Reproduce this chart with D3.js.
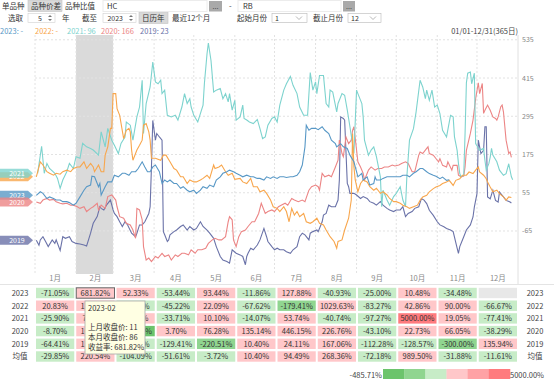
<!DOCTYPE html>
<html>
<head>
<meta charset="utf-8">
<script src="https://cdn.jsdelivr.net/npm/d3@7"></script>
<style>
body { margin: 0; background: #fff; }
svg { display: block; font-family: "Noto Sans CJK SC", "Noto Sans", sans-serif; }
</style>
</head>
<body>
<svg id="chart" width="554" height="391"></svg>
<script>
// years shown, newest first
const years = ["2023", "2022", "2021", "2020", "2019"];
const yearColors = ["#5898c6", "#f8a64c", "#7dd3ce", "#ec8585", "#6a72a8"];
const legendValues = ["-", "-", "96", "166", "23"];
const months = ["1月", "2月", "3月", "4月", "5月", "6月", "7月", "8月", "9月", "10月", "11月", "12月"];
const monthStarts = [0, 31, 59, 90, 120, 151, 181, 212, 243, 273, 304, 334];
const yTicks = [-65, 55, 175, 295, 415, 535];

// spread series: [day of year, value]
const s2023 = [[1,47],[4,58],[6,53],[9,37],[11,42],[14,37],[16,32],[19,32],[21,27],[24,27],[26,24],[29,16],[31,22],[34,42],[37,63],[39,74],[42,79],[43,107],[45,105],[48,74],[49,84],[50,48],[53,74],[55,89],[58,89],[60,110],[63,105],[66,116],[68,116],[71,110],[73,121],[76,121],[78,131],[81,152],[83,136],[85,121],[87,121],[89,136],[91,142],[94,121],[96,84],[98,95],[100,89],[102,95],[105,84],[107,84],[110,69],[112,74],[115,63],[117,58],[120,63],[122,53],[125,63],[127,74],[130,69],[132,79],[135,74],[137,95],[140,105],[142,116],[145,121],[147,126],[150,121],[152,116],[155,110],[157,105],[160,110],[163,105],[165,105],[168,100],[170,100],[173,95],[175,105],[178,100],[180,105],[183,100],[185,105],[188,105],[190,103],[193,105],[195,105],[198,110],[200,121],[202,142],[204,199],[205,267],[207,251],[209,257],[212,257],[214,253],[217,262],[219,251],[222,241],[224,220],[227,209],[228,199],[231,209],[233,199],[236,194],[238,173],[241,152],[242,136],[243,121],[244,105],[247,116],[248,95],[251,105],[253,79],[256,84],[257,105],[258,95],[261,95],[263,100],[266,105],[268,105],[271,105],[273,105],[276,105],[278,110],[281,110],[283,105],[286,116],[288,121],[291,131],[293,131],[296,121],[298,115],[301,110],[303,107],[306,99],[308,104],[311,94],[313,96]];
const s2022 = [[1,105],[4,152],[6,142],[9,121],[11,116],[14,110],[16,116],[19,113],[21,121],[24,126],[27,121],[29,131],[32,136],[34,136],[37,152],[39,131],[42,147],[44,136],[45,121],[48,142],[50,121],[52,121],[53,173],[55,199],[57,257],[58,257],[59,366],[61,366],[62,319],[64,298],[67,225],[69,251],[71,257],[72,246],[73,189],[74,157],[77,189],[79,204],[81,220],[82,267],[84,272],[86,246],[87,220],[88,163],[91,163],[95,157],[97,173],[99,173],[102,152],[105,131],[107,126],[110,105],[112,105],[115,84],[117,95],[120,89],[122,89],[125,95],[127,100],[130,110],[132,100],[135,142],[136,131],[139,136],[141,142],[144,121],[146,110],[149,116],[151,97],[155,100],[157,89],[160,84],[163,100],[165,74],[168,74],[170,58],[173,63],[175,53],[178,32],[180,11],[183,6],[185,-4],[188,11],[190,-4],[192,-36],[194,6],[196,-15],[198,-4],[200,-20],[203,-10],[205,-36],[208,-41],[210,-36],[213,-25],[215,-41],[218,-46],[220,-62],[223,-83],[226,-98],[228,-119],[229,-98],[232,-93],[234,-62],[237,-25],[239,32],[240,241],[241,136],[242,95],[244,58],[246,84],[248,95],[251,89],[253,74],[256,63],[258,69],[261,53],[263,58],[266,48],[268,37],[271,27],[273,27],[276,22],[278,16],[281,11],[283,6],[286,11],[289,16],[291,31],[293,42],[296,47],[298,58],[301,68],[303,73],[306,78],[308,84],[311,89],[313,94],[316,78],[318,94],[321,99],[323,110],[326,110],[328,120],[331,115],[333,126],[335,136],[336,120],[339,110],[341,99],[342,89],[344,73],[346,58],[349,63],[351,52],[354,42],[355,37],[356,31],[358,42],[360,40]];
const s2021 = [[2,116],[5,201],[7,116],[9,147],[11,131],[15,116],[17,100],[19,69],[21,95],[24,121],[26,147],[29,131],[31,168],[34,163],[36,210],[39,199],[42,194],[44,189],[48,173],[50,246],[53,199],[55,257],[58,220],[60,204],[63,178],[65,210],[68,230],[69,277],[72,267],[74,220],[77,293],[79,324],[81,408],[82,241],[84,335],[87,387],[89,465],[91,403],[93,397],[95,408],[96,366],[98,377],[100,298],[103,293],[106,298],[108,283],[111,324],[113,366],[115,335],[117,350],[118,324],[120,298],[123,277],[127,330],[128,397],[130,491],[131,525],[133,470],[135,371],[137,377],[140,382],[142,350],[144,366],[146,340],[147,366],[149,314],[151,345],[152,283],[155,293],[157,330],[158,288],[160,283],[162,277],[165,272],[168,285],[170,256],[172,225],[174,230],[176,267],[179,288],[181,293],[183,277],[185,330],[188,377],[190,397],[193,420],[195,392],[198,366],[200,324],[203,298],[206,298],[208,432],[210,377],[212,403],[213,366],[215,423],[218,423],[220,335],[222,324],[223,377],[225,371],[228,309],[229,335],[232,366],[234,361],[236,314],[238,262],[241,178],[243,377],[244,366],[247,335],[248,293],[249,220],[252,173],[254,189],[256,199],[258,168],[261,105],[262,11],[263,63],[266,32],[268,16],[271,43],[273,53],[276,74],[278,32],[280,11],[281,105],[283,220],[286,256],[288,309],[291,408],[293,387],[295,350],[296,377],[298,345],[300,377],[302,324],[304,330],[306,303],[308,251],[311,230],[314,298],[316,293],[317,230],[319,188],[320,147],[321,115],[322,105],[324,110],[325,241],[326,400],[327,430],[329,434],[330,397],[332,430],[333,209],[336,188],[339,194],[340,157],[341,126],[343,147],[344,167],[345,194],[346,173],[349,152],[351,126],[354,110],[356,115],[358,146],[360,105],[361,96]];
const s2020 = [[1,26],[4,22],[6,32],[9,37],[11,32],[14,34],[16,27],[19,22],[21,20],[24,22],[27,16],[29,16],[32,11],[34,6],[37,11],[39,-4],[42,6],[44,11],[47,22],[48,1],[50,16],[53,6],[55,43],[58,48],[61,32],[62,11],[64,-20],[67,-25],[69,-41],[72,-46],[74,-62],[76,-88],[77,6],[79,1],[81,-30],[82,-114],[84,-156],[86,-150],[88,-161],[91,-145],[93,-150],[96,-135],[98,-145],[101,-140],[103,-156],[106,-140],[108,-145],[111,-135],[113,-135],[116,-140],[118,-124],[121,-135],[123,-124],[126,-124],[129,-119],[131,-104],[134,-93],[136,-88],[139,-93],[141,-93],[144,-83],[146,-36],[147,-20],[149,-30],[150,-93],[152,-114],[154,-83],[156,-67],[159,-62],[161,-51],[164,-36],[166,-36],[169,-10],[171,22],[174,-10],[176,-4],[179,1],[181,-4],[184,11],[186,16],[189,22],[191,16],[194,37],[196,32],[199,27],[202,32],[204,27],[207,63],[209,74],[212,79],[214,74],[215,63],[217,116],[219,105],[222,110],[224,105],[227,136],[229,157],[230,220],[232,178],[233,168],[235,230],[237,209],[239,220],[240,251],[241,262],[243,189],[244,152],[246,136],[248,116],[249,95],[252,126],[254,136],[257,126],[259,131],[262,131],[264,136],[267,136],[270,142],[272,139],[275,142],[277,147],[280,152],[282,147],[285,121],[287,121],[290,173],[291,183],[293,178],[296,194],[297,199],[298,178],[301,173],[304,157],[305,152],[306,162],[308,141],[311,136],[312,152],[315,126],[316,141],[319,141],[320,110],[322,105],[324,107],[325,136],[326,188],[329,241],[331,283],[333,350],[335,400],[336,366],[338,398],[339,304],[340,314],[342,330],[344,314],[346,293],[348,288],[349,283],[350,293],[352,325],[353,330],[354,309],[356,220],[358,178],[359,183],[360,166]];
const s2019 = [[1,-94],[3,-110],[4,-93],[6,-83],[8,-98],[10,-114],[13,-93],[15,-104],[16,-93],[19,-126],[21,-83],[23,-88],[26,-83],[28,-98],[31,-104],[34,-106],[37,-109],[39,-112],[42,-72],[44,-41],[47,-20],[49,11],[50,6],[52,1],[54,16],[57,32],[59,1],[60,-10],[62,-20],[64,-36],[66,-51],[68,-36],[70,-46],[73,-72],[76,-83],[77,-72],[79,-46],[81,-46],[83,-36],[86,-10],[87,11],[88,135],[89,282],[91,220],[92,241],[94,230],[96,220],[97,-67],[98,-77],[100,-98],[101,-93],[102,-77],[105,-67],[107,-62],[110,-51],[112,-46],[115,-62],[117,-51],[120,-62],[122,-57],[125,-36],[127,-51],[130,-62],[132,-72],[135,-88],[137,-114],[140,-145],[142,-156],[145,-161],[147,-166],[149,-124],[152,-135],[155,-140],[157,-145],[159,-171],[160,-145],[161,-135],[163,-119],[165,-124],[168,-109],[170,-93],[173,-57],[175,-83],[176,-98],[179,-114],[181,-124],[183,-119],[185,-124],[188,-124],[190,-130],[193,-135],[195,-124],[198,-114],[200,-83],[202,-72],[204,-77],[207,-93],[208,-72],[210,-67],[213,-62],[214,-67],[217,-36],[218,-15],[220,-10],[222,16],[224,11],[227,11],[229,32],[230,95],[231,293],[233,288],[234,283],[236,84],[237,74],[238,53],[241,53],[243,48],[246,37],[248,43],[251,37],[253,27],[256,22],[258,16],[261,27],[263,16],[266,6],[268,1],[271,-4],[273,1],[276,1],[278,11],[280,-20],[282,-10],[285,-4],[287,6],[290,11],[292,37],[294,32],[296,21],[298,0],[301,-16],[304,-36],[306,-46],[309,-52],[311,-57],[314,-62],[316,-67],[319,-119],[320,-135],[321,-114],[324,-83],[326,-62],[329,-46],[331,-21],[332,10],[334,52],[335,220],[336,199],[337,178],[339,188],[340,262],[341,262],[342,42],[344,36],[346,63],[348,31],[350,26],[351,57],[354,42],[356,31],[359,26],[360,23]];
const allSeries = [s2023, s2022, s2021, s2020, s2019];

// monthly returns (%), null = no data
const ret2023 = [-71.05, 681.82, 52.33, -53.44, 93.44, -11.86, 127.88, -40.93, -25.00, 10.48, -34.48, null];
const ret2022 = [20.83, 125.00, -45.45, -45.22, 22.09, -67.62, -179.41, 1029.63, -83.27, 42.86, 90.00, -66.67];
const ret2021 = [-25.90, 72.73, 12.50, -33.71, 10.10, -14.07, 53.74, -40.74, -97.27, 5000.00, 19.05, -77.41];
const ret2020 = [-8.70, 100.00, -485.71, 3.70, 76.28, 135.14, 446.15, 226.76, -43.10, 22.73, 66.05, -38.29];
const ret2019 = [-64.41, 123.15, -54.12, -129.41, -220.51, 10.40, 24.11, 167.06, -112.28, -128.57, -300.00, 135.94];
const retAvg = [-29.85, 220.54, -104.09, -51.61, -3.72, 10.40, 94.49, 268.36, -72.18, 989.50, -31.88, -11.61];
const tableRows = [ret2023, ret2022, ret2021, ret2020, ret2019];

const svg = d3.select("#chart");

// ---------- top controls ----------
function label(x, y, t, opts) {
	opts = opts || {};
	return svg.append("text")
	.attr("x", x).attr("y", y)
	.attr("font-size", opts.size || 7.5)
	.attr("fill", opts.fill || "#333")
	.attr("text-anchor", opts.anchor || "start")
	.text(t);
}

// tabs
svg.append("rect").attr("x", 28).attr("y", 0.5).attr("width", 34).attr("height", 11)
	.attr("fill", "#d9d9d9").attr("stroke", "#c4c4c4").attr("stroke-width", 0.6);
label(2, 9, "单品种");
label(31, 9, "品种价差");
label(65, 9, "品种比值");

// variety inputs
svg.append("rect").attr("x", 103).attr("y", 0.5).attr("width", 104).attr("height", 11)
	.attr("fill", "#fff").attr("stroke", "#ececec");
label(107, 9, "HC");
svg.append("rect").attr("x", 209).attr("y", 1).attr("width", 13).attr("height", 10.5)
	.attr("fill", "#a9a9a9");
label(215.5, 8.5, "...", {anchor: "middle", fill: "#444", size: 7});
label(229, 9, "-");
svg.append("rect").attr("x", 238).attr("y", 0.5).attr("width", 103).attr("height", 11)
	.attr("fill", "#fff").attr("stroke", "#ececec");
label(243, 9, "RB");
svg.append("rect").attr("x", 343).attr("y", 1).attr("width", 12).attr("height", 10.5)
	.attr("fill", "#a9a9a9");
label(349, 8.5, "...", {anchor: "middle", fill: "#444", size: 7});

// second row
function spinBox(x0, w, t) {
	svg.append("rect").attr("x", x0).attr("y", 13.5).attr("width", w).attr("height", 9)
		.attr("fill", "#fff").attr("stroke", "#d0d0d0").attr("stroke-width", 0.6);
	label(x0 + w - 13, 20.5, t, {anchor: "end", size: 7});
	const ax = x0 + w - 5;
	svg.append("path").attr("d", `M${ax - 2},17 L${ax},15 L${ax + 2},17 Z`).attr("fill", "#777");
	svg.append("path").attr("d", `M${ax - 2},19 L${ax},21 L${ax + 2},19 Z`).attr("fill", "#777");
}
function comboBox(x0, w, t) {
	svg.append("rect").attr("x", x0).attr("y", 13.5).attr("width", w).attr("height", 9)
		.attr("fill", "#fff").attr("stroke", "#b8b8b8").attr("stroke-width", 0.6);
	label(x0 + 3, 20.5, t, {size: 7});
	const ax = x0 + w - 8;
	svg.append("path").attr("d", `M${ax - 3},16.5 L${ax},19.5 L${ax + 3},16.5`)
		.attr("fill", "none").attr("stroke", "#999").attr("stroke-width", 0.7);
}
label(8, 20.5, "选取");
spinBox(28, 27, "5");
label(62, 20.5, "年");
label(82, 20.5, "截至");
spinBox(103, 33, "2023");
svg.append("rect").attr("x", 139).attr("y", 12.5).attr("width", 29).attr("height", 11)
	.attr("fill", "#d9d9d9").attr("stroke", "#c4c4c4").attr("stroke-width", 0.6);
label(142, 20.5, "日历年");
label(172, 20.5, "最近12个月");
label(237, 20.5, "起始月份");
comboBox(272, 35, "1");
label(313, 20.5, "截止月份");
comboBox(348, 33, "12");

// legend row
let lx = 0;
const legendX = [0, 35, 67, 101, 140];
years.forEach(function(yr, i) {
	label(legendX[i], 33.5, yr + ": " + legendValues[i], {fill: yearColors[i], size: 7.5});
});
label(518, 33.5, "01/01-12/31(365日)", {anchor: "end", fill: "#444", size: 7.5});

// ---------- plot ----------
const x = d3.scaleLinear().domain([0, 365]).range([35, 518]);
const y = d3.scaleLinear().domain([-200, 550]).range([274, 35]);

// highlighted month (Feb)
svg.append("rect")
	.attr("x", x(monthStarts[1])).attr("y", 35)
	.attr("width", x(monthStarts[2]) - x(monthStarts[1])).attr("height", 239)
	.attr("fill", "#dadada");

// grid
svg.append("g").selectAll("line").data(yTicks).enter().append("line")
	.attr("x1", 35).attr("x2", 518)
	.attr("y1", d => y(d)).attr("y2", d => y(d))
	.attr("stroke", "#e2e2e2").attr("stroke-dasharray", "2,2");
svg.append("g").selectAll("line").data(monthStarts).enter().append("line")
	.attr("x1", d => x(d)).attr("x2", d => x(d))
	.attr("y1", 35).attr("y2", 274)
	.attr("stroke", "#e2e2e2").attr("stroke-dasharray", "2,2");
svg.append("line").attr("x1", 518).attr("x2", 518).attr("y1", 35).attr("y2", 285)
	.attr("stroke", "#e0e0e0");

// right axis labels
svg.append("g").selectAll("text").data(yTicks).enter().append("text")
	.attr("x", 522).attr("y", d => y(d) + 2.5)
	.attr("font-size", 7).attr("fill", "#888")
	.text(d => d);

svg.append("clipPath").attr("id", "plotclip").append("rect")
	.attr("x", 35).attr("y", 35).attr("width", 483).attr("height", 239);

const line = d3.line().x(d => x(d[0])).y(d => y(d[1]));
const lineG = svg.append("g").attr("clip-path", "url(#plotclip)");
for (let i = allSeries.length - 1; i >= 0; i--) {
	lineG.append("path")
		.attr("d", line(allSeries[i]))
		.attr("fill", "none")
		.attr("stroke", yearColors[i])
		.attr("stroke-width", 1.1);
}

// start tags on the left
const tagOrder = [0, 1, 2, 3, 4];
tagOrder.forEach(function(i) {
	const ty = y(allSeries[i][0][1]);
	svg.append("path")
		.attr("d", `M0,${ty - 4.5} L28,${ty - 4.5} L33,${ty} L28,${ty + 4.5} L0,${ty + 4.5} Z`)
		.attr("fill", yearColors[i]).attr("fill-opacity", 0.8);
	svg.append("text").attr("x", 17).attr("y", ty + 2.6)
		.attr("text-anchor", "middle").attr("font-size", 7).attr("fill", "#fff")
		.text(years[i]);
});

// ---------- table ----------
const colW = 483 / 12;
const rowY = [293, 305.7, 318.4, 331.1, 343.8, 356.5];

// header
svg.append("g").selectAll("text").data(months).enter().append("text")
	.attr("x", (d, i) => 35 + colW * (i + 0.5)).attr("y", 281)
	.attr("text-anchor", "middle").attr("font-size", 7.5).attr("fill", "#888")
	.text(d => d);
svg.append("line").attr("x1", 0).attr("x2", 554).attr("y1", 284.5).attr("y2", 284.5)
	.attr("stroke", "#e4e4e4");

const allVals = tableRows.flat().filter(v => v !== null);
const lo = d3.min(allVals), hi = d3.max(allVals);
const cellColors = ["#6cc46c", "#90d590", "#c7ecc7", "#ffc7c9", "#ffa2a5", "#ff7b7e"];
const color = d3.scaleThreshold()
	.domain([lo * 2 / 3, lo / 3, 0, hi / 3, hi * 2 / 3])
	.range(cellColors);

const rows = tableRows.concat([retAvg]);
const rowNames = years.concat(["均值"]);
rows.forEach(function(r, ri) {
	const g = svg.append("g");
	g.selectAll("rect").data(r).enter().append("rect")
		.attr("x", (d, i) => 35 + colW * i + 1)
		.attr("y", rowY[ri] - 5.2)
		.attr("width", colW - 2).attr("height", 10.4)
		.attr("fill", d => d === null ? "#e8e8e8" : color(d));
	g.selectAll("text").data(r).enter().append("text")
		.attr("x", (d, i) => 35 + colW * (i + 0.5)).attr("y", rowY[ri] + 2.8)
		.attr("text-anchor", "middle").attr("font-size", 7.5).attr("fill", "#333")
		.text(d => d === null ? "" : d.toFixed(2) + "%");
	svg.append("text").attr("x", 20).attr("y", rowY[ri] + 2.8)
		.attr("text-anchor", "middle").attr("font-size", 7.5).attr("fill", "#444")
		.text(rowNames[ri]);
	svg.append("text").attr("x", 535).attr("y", rowY[ri] + 2.8)
		.attr("text-anchor", "middle").attr("font-size", 7.5).attr("fill", "#444")
		.text(rowNames[ri]);
});

// selected cell
svg.append("rect")
	.attr("x", 35 + colW + 1).attr("y", rowY[0] - 5.2)
	.attr("width", colW - 2).attr("height", 10.4)
	.attr("fill", "none").attr("stroke", "#666").attr("stroke-width", 1);

// colour legend
const legX = d3.scaleLinear().domain([0, 6]).range([383, 510]);
svg.append("g").selectAll("rect").data(cellColors).enter().append("rect")
	.attr("x", (d, i) => legX(i)).attr("y", 369)
	.attr("width", legX(1) - legX(0) + 0.3).attr("height", 10)
	.attr("fill", d => d);
label(382, 377.5, lo.toFixed(2) + "%", {anchor: "end", fill: "#444", size: 7.5});
label(510, 377.5, hi.toFixed(2) + "%", {fill: "#444", size: 7.5});

// tooltip for 2023-02
const tip = svg.append("g");
tip.append("rect").attr("x", 85).attr("y", 301).attr("width", 60).attr("height", 53)
	.attr("fill", "#ffffe3").attr("stroke", "#a8a8a8").attr("stroke-width", 0.8);
const tipLines = [["2023-02", 311], ["上月收盘价: 11", 330], ["本月收盘价: 86", 340], ["收益率: " + ret2023[1].toFixed(2) + "%", 350]];
tipLines.forEach(function(t) {
	tip.append("text").attr("x", 88).attr("y", t[1])
		.attr("font-size", 7.5).attr("fill", "#333").text(t[0]);
});
</script>
</body>
</html>
